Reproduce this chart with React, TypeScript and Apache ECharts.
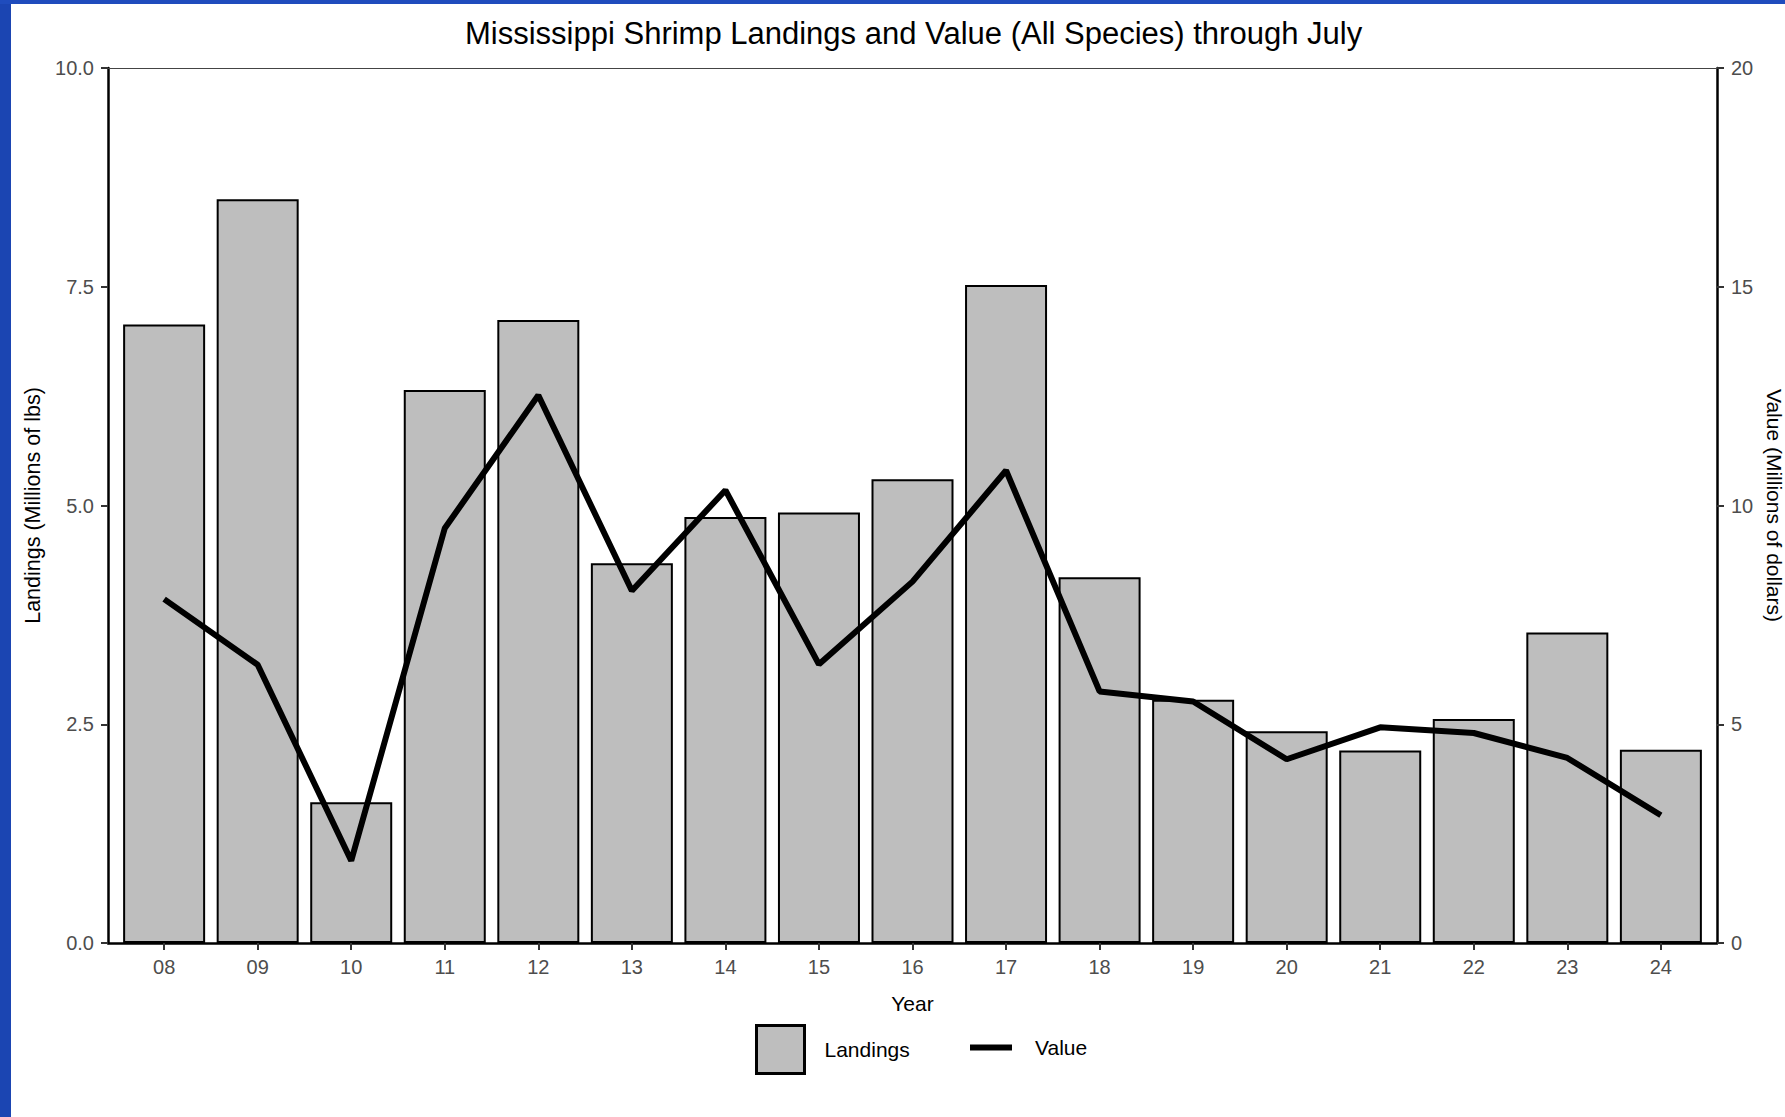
import React, { useEffect, useRef } from "react";
import * as echarts from "echarts";

const years = ["08", "09", "10", "11", "12", "13", "14", "15", "16", "17", "18", "19", "20", "21", "22", "23", "24"];
const landings = [7.07, 8.5, 1.61, 6.32, 7.12, 4.34, 4.87, 4.92, 5.3, 7.52, 4.18, 2.78, 2.42, 2.2, 2.56, 3.55, 2.21];
const values = [7.86, 6.36, 1.88, 9.48, 12.52, 8.05, 10.35, 6.37, 8.26, 10.8, 5.75, 5.52, 4.2, 4.93, 4.8, 4.23, 2.92];
const leftTicks = [0, 2.5, 5, 7.5, 10];
const rightTicks = [0, 5, 10, 15, 20];

const FONT = "'Liberation Sans', Arial, sans-serif";

export default function App() {
  const ref = useRef<HTMLDivElement>(null);
  useEffect(() => {
    document.body.style.margin = "0";
    const chart = echarts.init(ref.current!, null, { renderer: "svg" });
    const idx = years.map((_, i) => i);
    chart.setOption({
      animation: false,
      backgroundColor: "#ffffff",
      textStyle: { fontFamily: FONT },
      title: {
        text: "Mississippi Shrimp Landings and Value (All Species) through July",
        left: 460,
        top: 13,
        textStyle: { fontFamily: FONT, fontSize: 31, fontWeight: "normal", color: "#000" },
      },
      graphic: [
        { type: "rect", left: 0, top: 0, shape: { width: 11, height: 1117 }, style: { fill: "#1b45b2" }, z: 100 },
        { type: "rect", left: 0, top: 0, shape: { width: 1785, height: 4 }, style: { fill: "#1f4cbd" }, z: 100 },
      ],
      legend: [
        {
          data: ["Landings"],
          icon: "rect",
          left: 750,
          top: 1019,
          itemWidth: 48,
          itemHeight: 48,
          itemGap: 0,
          itemStyle: { borderColor: "#000", borderWidth: 3 },
          textStyle: { fontFamily: FONT, fontSize: 21, color: "#000", padding: [0, 0, 0, 15] },
        },
        {
          data: ["Value"],
          icon: "rect",
          left: 965,
          top: 1032,
          itemWidth: 42,
          itemHeight: 6,
          itemStyle: { color: "#000", borderWidth: 0 },
          textStyle: { fontFamily: FONT, fontSize: 21, color: "#000", padding: [0, 0, 0, 18] },
        },
      ],
      grid: { left: 108, right: 68, top: 68, bottom: 174, outerBoundsMode: "none", containLabel: false },
      xAxis: [
        {
          type: "value",
          min: -0.6,
          max: 16.6,
          position: "bottom",
          name: "Year",
          nameLocation: "middle",
          nameGap: 50,
          nameTextStyle: { fontFamily: FONT, fontSize: 21, color: "#000" },
          axisLine: { show: true, onZero: false, lineStyle: { color: "#000", width: 2.5 } },
          axisTick: { show: true, length: 7, lineStyle: { color: "#333", width: 2 }, customValues: idx },
          axisLabel: {
            customValues: idx,
            formatter: (v: number) => years[Math.round(v)] ?? "",
            fontFamily: FONT,
            fontSize: 20,
            color: "#4d4d4d",
            margin: 14,
          },
          splitLine: { show: false },
        },
        {
          type: "value",
          min: -0.6,
          max: 16.6,
          position: "top",
          axisLine: { show: true, onZero: false, lineStyle: { color: "#444", width: 1.2 } },
          axisTick: { show: false },
          axisLabel: { show: false },
          splitLine: { show: false },
        },
      ],
      yAxis: [
        {
          type: "value",
          min: 0,
          max: 10,
          interval: 2.5,
          position: "left",
          name: "Landings (Millions of lbs)",
          nameLocation: "middle",
          nameGap: 58,
          nameTextStyle: { fontFamily: FONT, fontSize: 21.5, color: "#000" },
          axisLine: { show: true, onZero: false, lineStyle: { color: "#000", width: 2.5 } },
          axisTick: { show: true, length: 7, lineStyle: { color: "#333", width: 2 } },
          axisLabel: {
            formatter: (v: number) => (leftTicks.includes(v) ? v.toFixed(1) : ""),
            fontFamily: FONT,
            fontSize: 20,
            color: "#4d4d4d",
            margin: 14,
          },
          splitLine: { show: false },
        },
        {
          type: "value",
          min: 0,
          max: 20,
          interval: 5,
          position: "right",
          name: "Value (Millions of dollars)",
          nameLocation: "middle",
          nameGap: 44,
          nameRotate: -90,
          nameTextStyle: { fontFamily: FONT, fontSize: 21, color: "#000" },
          axisLine: { show: true, onZero: false, lineStyle: { color: "#000", width: 2.5 } },
          axisTick: { show: true, length: 7, lineStyle: { color: "#333", width: 2 } },
          axisLabel: {
            formatter: (v: number) => (rightTicks.includes(v) ? String(v) : ""),
            fontFamily: FONT,
            fontSize: 20,
            color: "#4d4d4d",
            margin: 14,
          },
          splitLine: { show: false },
        },
      ],
      series: [
        {
          name: "Landings",
          type: "bar",
          xAxisIndex: 0,
          yAxisIndex: 0,
          barWidth: 82,
          data: landings.map((v, i) => [i, v]),
          itemStyle: { color: "#bebebe", borderColor: "#000", borderWidth: 2 },
        },
        {
          name: "Value",
          type: "line",
          xAxisIndex: 0,
          yAxisIndex: 1,
          symbol: "none",
          data: values.map((v, i) => [i, v]),
          lineStyle: { color: "#000", width: 6 },
          itemStyle: { color: "#000" },
          z: 5,
        },
      ],
    });
    return () => chart.dispose();
  }, []);
  return <div ref={ref} style={{ width: 1785, height: 1117 }} />;
}
